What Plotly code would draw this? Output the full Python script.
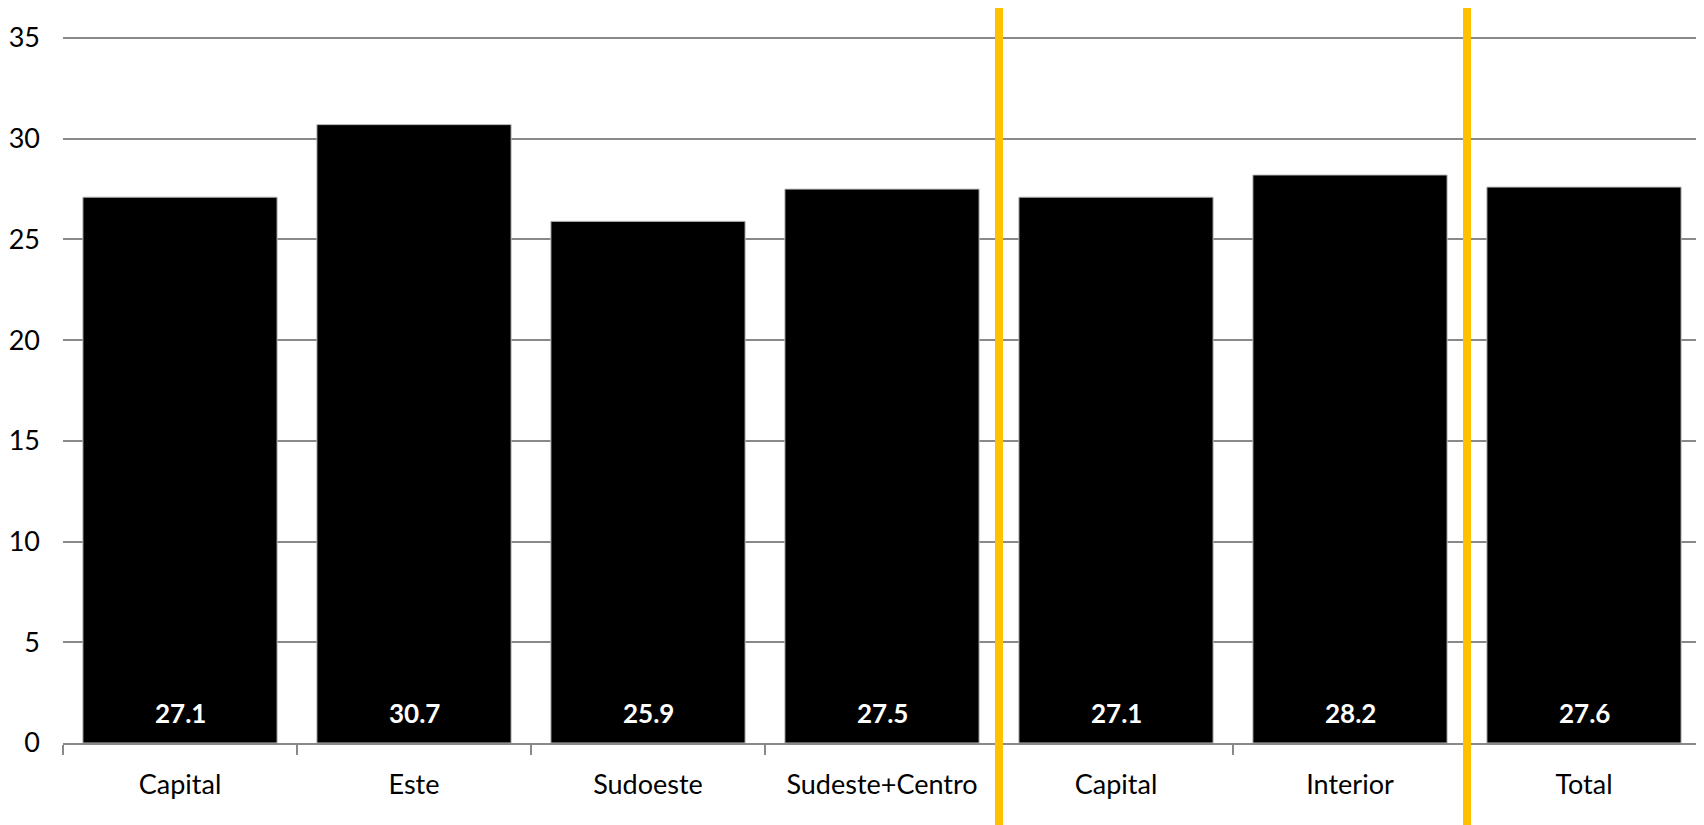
import plotly.graph_objects as go

categories = ["Capital", "Este", "Sudoeste", "Sudeste+Centro", "Capital", "Interior", "Total"]
values = [27.1, 30.7, 25.9, 27.5, 27.1, 28.2, 27.6]
separators = [3.5, 5.5]
y_ticks = [0, 5, 10, 15, 20, 25, 30, 35]

xpos = list(range(len(categories)))
GRID = "#898989"
FONT = "Lato"

fig = go.Figure()
fig.add_trace(go.Bar(
    x=xpos, y=values,
    marker=dict(color="black", line=dict(color="#BFBFBF", width=1)),
    hoverinfo="skip",
))

for xv, v in zip(xpos, values):
    fig.add_annotation(
        x=xv, y=0, xref="x", yref="y",
        text=f"<b>{v:.1f}</b>", showarrow=False,
        yanchor="middle", yshift=30,
        font=dict(family=FONT, size=26, color="white"),
    )

for s, top in zip(separators, [1.05, 1.047]):
    fig.add_shape(type="line", xref="x", yref="paper",
                  x0=s, x1=s, y0=-0.25, y1=top,
                  line=dict(color="#FFC000", width=8))

fig.update_layout(
    width=1704, height=825,
    margin=dict(l=55, r=11, t=29, b=90, autoexpand=False),
    paper_bgcolor="white", plot_bgcolor="white",
    showlegend=False,
    bargap=0.17,
    font=dict(family=FONT, size=27, color="black"),
    xaxis=dict(
        range=[-0.5, len(categories) - 0.5],
        tickmode="array", tickvals=xpos, ticktext=categories,
        ticks="", ticklabelstandoff=17, automargin=False,
        showline=True, linecolor=GRID, linewidth=2,
        showgrid=False, zeroline=False,
        minor=dict(tick0=-0.5, dtick=1, ticks="outside", ticklen=10,
                   tickcolor=GRID, tickwidth=2, showgrid=False),
        tickfont=dict(family=FONT, size=27, color="black"),
    ),
    yaxis=dict(
        range=[0, 35.05], tickmode="array", tickvals=y_ticks,
        showgrid=True, gridcolor=GRID, gridwidth=2, automargin=False,
        zeroline=False, showline=False, ticks="",
        ticklabelstandoff=22,
        tickfont=dict(family=FONT, size=27, color="black"),
    ),
)

fig.write_html("out.html")
